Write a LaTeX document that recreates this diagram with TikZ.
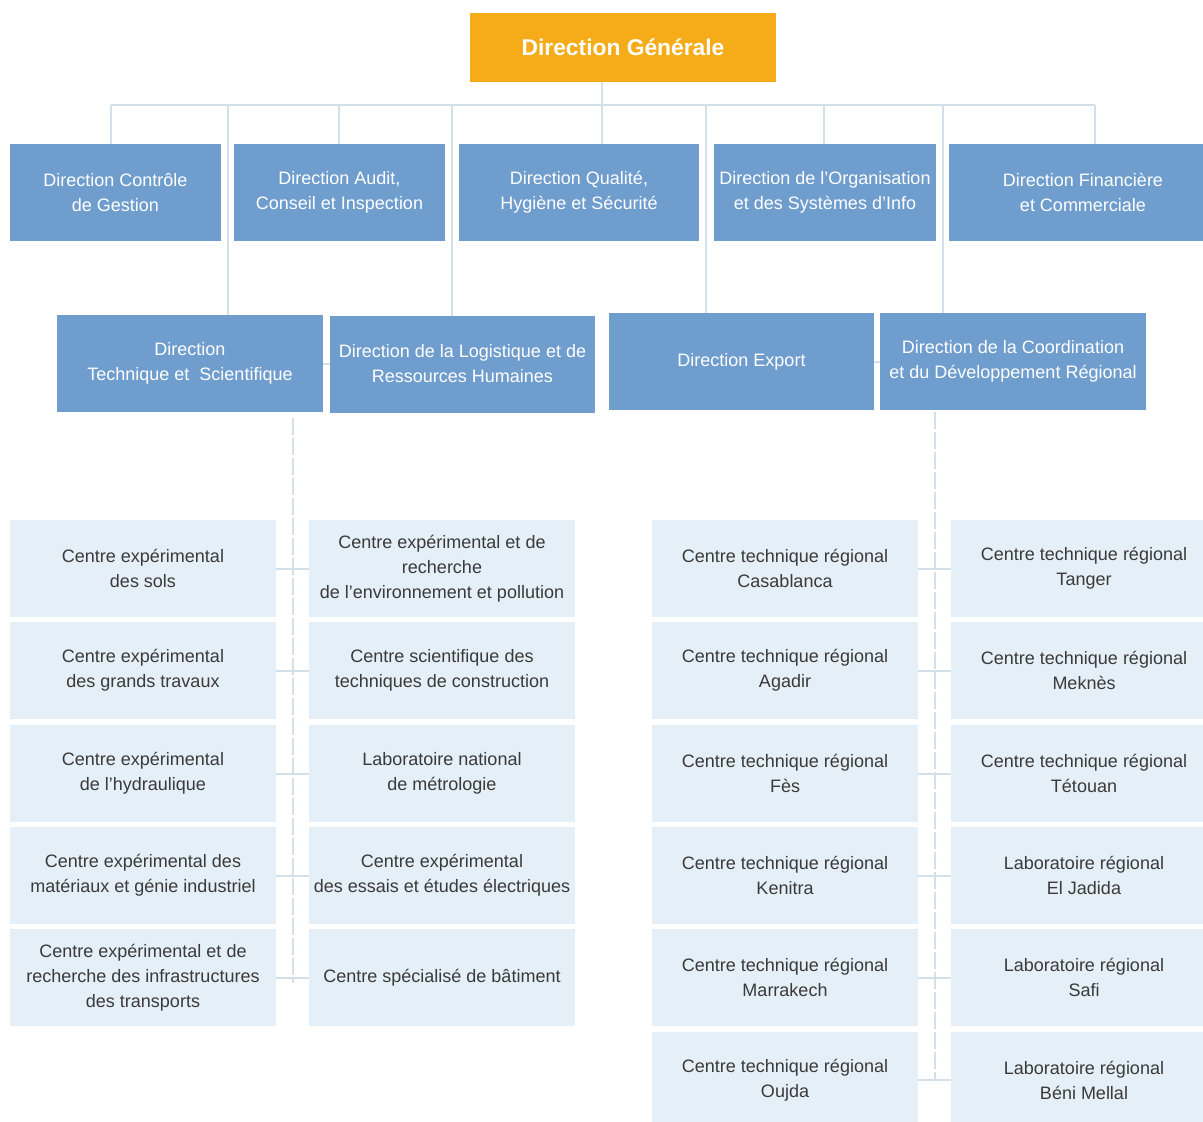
\documentclass[tikz,border=0pt]{standalone}
\usepackage{fontspec}
\setmainfont{Liberation Sans}
\definecolor{orangebox}{HTML}{F5AC18}
\definecolor{bluebox}{HTML}{6F9DCD}
\definecolor{lightbox}{HTML}{E4EFF7}
\definecolor{linecol}{HTML}{D3E0EA}
\definecolor{darktext}{HTML}{3A3A3A}
\begin{document}
\begin{tikzpicture}[x=0.5pt,y=-0.5pt,
  every node/.style={inner sep=0pt, outer sep=0pt, align=center,
    font=\fontsize{9.0}{12.5}\selectfont},
  topbox/.style={fill=orangebox, text=white, minimum width=153pt, minimum height=34.5pt,
    font=\fontsize{11.4}{14}\selectfont\bfseries},
  dirbox/.style={fill=bluebox, text=white, minimum height=48.5pt},
  unitbox/.style={fill=lightbox, text=darktext, minimum height=48.5pt},
  link/.style={draw=linecol, line width=1pt},
  dashlink/.style={draw=linecol, line width=0.8pt, dash pattern=on 8.5pt off 1.5pt}]
\useasboundingbox (0,0) rectangle (1203,1121);

% top
\node[topbox] (DG) at (623,47.5) {Direction Générale};

% row 1
\node[dirbox, minimum width=105.5pt] (A1) at (115.5,192.5) {Direction Contrôle\\de Gestion};
\node[dirbox, minimum width=105.5pt] (A2) at (339.5,192.5) {Direction Audit,\\Conseil et Inspection};
\node[dirbox, minimum width=120pt] (A3) at (579,192.5) {Direction Qualité,\\Hygiène et Sécurité};
\node[dirbox, minimum width=111pt] (A4) at (825,192.5) {Direction de l’Organisation\\et des Systèmes d’Info};
\node[dirbox, minimum width=134pt] (A5) at (1083,192.5) {Direction Financière\\et Commerciale};

% row 2
\node[dirbox, minimum width=133pt] (B1) at (190,363.5) {Direction\\Technique et\ \ Scientifique};
\node[dirbox, minimum width=132.5pt] (B2) at (462.5,364) {Direction de la Logistique et de\\Ressources Humaines};
\node[dirbox, minimum width=132.5pt] (B3) at (741.5,361.5) {Direction Export};
\node[dirbox, minimum width=133pt] (B4) at (1013,361.5) {Direction de la Coordination\\et du Développement Régional};

% left group
\node[unitbox, minimum width=133pt] (L1) at (143,568.5) {Centre expérimental\\des sols};
\node[unitbox, minimum width=133pt] (L2) at (143,670.5) {Centre expérimental\\des grands travaux};
\node[unitbox, minimum width=133pt] (L3) at (143,773.5) {Centre expérimental\\de l’hydraulique};
\node[unitbox, minimum width=133pt] (L4) at (143,875.5) {Centre expérimental des\\matériaux et génie industriel};
\node[unitbox, minimum width=133pt] (L5) at (143,977.5) {Centre expérimental et de\\recherche des infrastructures\\des transports};
\node[unitbox, minimum width=133pt] (M1) at (442,568.5) {Centre expérimental et de\\recherche\\de l’environnement et pollution};
\node[unitbox, minimum width=133pt] (M2) at (442,670.5) {Centre scientifique des\\techniques de construction};
\node[unitbox, minimum width=133pt] (M3) at (442,773.5) {Laboratoire national\\de métrologie};
\node[unitbox, minimum width=133pt] (M4) at (442,875.5) {Centre expérimental\\des essais et études électriques};
\node[unitbox, minimum width=133pt] (M5) at (442,977.5) {Centre spécialisé de bâtiment};

% right group
\node[unitbox, minimum width=133pt] (R1) at (785,568.5) {Centre technique régional\\Casablanca};
\node[unitbox, minimum width=133pt] (R2) at (785,670.5) {Centre technique régional\\Agadir};
\node[unitbox, minimum width=133pt] (R3) at (785,773.5) {Centre technique régional\\Fès};
\node[unitbox, minimum width=133pt] (R4) at (785,875.5) {Centre technique régional\\Kenitra};
\node[unitbox, minimum width=133pt] (R5) at (785,977.5) {Centre technique régional\\Marrakech};
\node[unitbox, minimum width=133pt] (R6) at (785,1080) {Centre technique régional\\Oujda};
\node[unitbox, minimum width=133pt] (S1) at (1084,568.5) {Centre technique régional\\Tanger};
\node[unitbox, minimum width=133pt] (S2) at (1084,670.5) {Centre technique régional\\Meknès};
\node[unitbox, minimum width=133pt] (S3) at (1084,773.5) {Centre technique régional\\Tétouan};
\node[unitbox, minimum width=133pt] (S4) at (1084,875.5) {Laboratoire régional\\El Jadida};
\node[unitbox, minimum width=133pt] (S5) at (1084,977.5) {Laboratoire régional\\Safi};
\node[unitbox, minimum width=133pt] (S6) at (1084,1080) {Laboratoire régional\\Béni Mellal};

% bus junctions
\coordinate (j1) at (111,105);
\coordinate (j2) at (228,105);
\coordinate (j3) at (339,105);
\coordinate (j4) at (452,105);
\coordinate (j5) at (602,105);
\coordinate (j6) at (706,105);
\coordinate (j7) at (824,105);
\coordinate (j8) at (943,105);
\coordinate (j9) at (1095,105);

\draw[link] (j1) -- (j9);
\draw[link] (DG.south -| j5) -- (j5);
\draw[link] (j1) -- (A1.north -| j1);
\draw[link] (j3) -- (A2.north -| j3);
\draw[link] (j5) -- (A3.north -| j5);
\draw[link] (j7) -- (A4.north -| j7);
\draw[link] (j9) -- (A5.north -| j9);
\draw[link] (j2) -- (B1.north -| j2);
\draw[link] (j4) -- (B2.north -| j4);
\draw[link] (j6) -- (B3.north -| j6);
\draw[link] (j8) -- (B4.north -| j8);
\draw[link] (B1.east) -- (B2.west |- B1.east);
\draw[link] (B3.east) -- (B4.west |- B3.east);

% left group spine
\coordinate (lt) at (293,418);
\coordinate (lb) at (293,983);
\draw[dashlink] (lt) -- (lb);
\foreach \a/\b in {L1/M1,L2/M2,L3/M3,L4/M4,L5/M5}
  \draw[link] (\a.east) -- (\b.west |- \a.east);

% right group spine
\coordinate (rt) at (935,412);
\coordinate (rb) at (935,1080);
\draw[dashlink] (rt) -- (rb);
\foreach \a/\b in {R1/S1,R2/S2,R3/S3,R4/S4,R5/S5,R6/S6}
  \draw[link] (\a.east) -- (\b.west |- \a.east);
\end{tikzpicture}
\end{document}
